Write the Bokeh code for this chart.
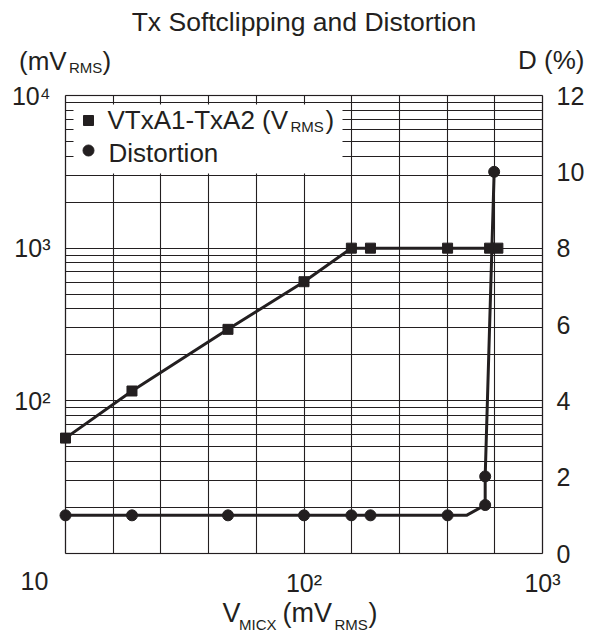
from bokeh.plotting import figure
from bokeh.models import (Range1d, LinearAxis, LinearScale, FixedTicker, Label,
                          BoxAnnotation)
from bokeh.embed import file_html
from bokeh.resources import INLINE

# ---------------- data ----------------
vtx_x = [10, 19, 48, 100, 158, 190, 400, 600, 650]
vtx_y = [57, 116, 294, 603, 1000, 1000, 1000, 1000, 1000]

dist_x = [10, 19, 48, 100, 158, 190, 400, 575, 575, 627]
dist_d = [1.0, 1.0, 1.0, 1.0, 1.0, 1.0, 1.0, 1.27, 2.02, 10.0]
# measured curve path (the knee near 480 mV carries no marker)
dist_path_x = [10, 19, 48, 100, 158, 190, 400, 480, 575, 575, 627]
dist_path_d = [1.0, 1.0, 1.0, 1.0, 1.0, 1.0, 1.0, 1.0, 1.27, 2.02, 10.0]

x_ticks = [10, 100, 1000]
x_tick_labels = ["10", "10²", "10³"]
y_ticks = [100, 1000, 10000]
y_tick_labels = ["10²", "10³", "10⁴"]
d_ticks = [0, 2, 4, 6, 8, 10, 12]
d_tick_labels = ["0", "2", "4", "6", "8", "10", "12"]
x_lim = (10, 1000)
y_lim = (10, 10000)
d_lim = (0, 12)

title_text = "Tx Softclipping and Distortion"
legend_vtx = ["VTxA1-TxA2 (V", "RMS", ")"]
legend_dist = "Distortion"

# ---------------- layout (page pixels) ----------------
INK = "#231f20"
FONT = "Liberation Sans"
M = 0                      # observed page offset of the canvas
W, H = 593, 635            # canvas size
BX0, BX1, BY0, BY1 = 65, 542, 95, 553   # plot box edges on the page

xpp = 2 / (BX1 - BX0)      # decades per pixel
ypp = 3 / (BY1 - BY0)
dpp = 12 / (BY1 - BY0)


def X(px):
    return 10 ** (1 + (px - BX0) * xpp)


def Y(py):
    return 10 ** (1 + (BY1 - py) * ypp)


x_range = Range1d(X(M), X(M + W))
y_range = Range1d(Y(M + H), Y(M))
d_range = Range1d(-(M + H - BY1) * dpp, 12 + (BY0 - M) * dpp)

p = figure(x_axis_type="log", y_axis_type="log",
           x_range=x_range, y_range=y_range,
           width=W, height=H,
           min_border_left=0, min_border_top=0,
           min_border_right=0, min_border_bottom=0,
           output_backend="svg", toolbar_location=None, title=None)
p.extra_y_ranges = {"d": d_range}
p.extra_y_scales = {"d": LinearScale()}
p.background_fill_color = "white"
p.border_fill_color = "white"
p.outline_line_color = None

# ---------------- grid ----------------
xgrid_ticks = [10 ** (1 + 0.2 * k) for k in range(11)]
ygrid_ticks = [k * 10 ** n for n in (1, 2, 3) for k in range(1, 10)] + [10000]
p.xgrid.ticker = FixedTicker(ticks=xgrid_ticks)
p.ygrid.ticker = FixedTicker(ticks=ygrid_ticks)
for g in (p.xgrid, p.ygrid):
    g.grid_line_color = INK
    g.grid_line_width = 1.1
try:
    p.xgrid[0].cross_bounds = y_lim
    p.ygrid[0].cross_bounds = x_lim
except Exception:
    p.xgrid.visible = False
    p.ygrid.visible = False
    p.segment(x0=xgrid_ticks, x1=xgrid_ticks,
              y0=[y_lim[0]] * len(xgrid_ticks), y1=[y_lim[1]] * len(xgrid_ticks),
              line_color=INK, line_width=1.1, level="underlay")
    p.segment(x0=[x_lim[0]] * len(ygrid_ticks), x1=[x_lim[1]] * len(ygrid_ticks),
              y0=ygrid_ticks, y1=ygrid_ticks,
              line_color=INK, line_width=1.1, level="underlay")


def style_axis(ax, standoff):
    ax.axis_line_color = None
    ax.major_tick_line_color = None
    ax.minor_tick_line_color = None
    ax.major_label_text_font = FONT
    ax.major_label_text_font_size = "25px"
    ax.major_label_text_color = INK
    ax.major_label_standoff = standoff


# bottom axis (fixed on the bottom edge of the plot box)
xa = p.xaxis[0]
xa.ticker = FixedTicker(ticks=x_ticks[1:])
xa.major_label_overrides = {t: s for t, s in zip(x_ticks[1:], x_tick_labels[1:])}
xa.fixed_location = y_lim[0]
style_axis(xa, 9)

# left axis
ya = p.yaxis[0]
ya.ticker = FixedTicker(ticks=y_ticks)
ya.major_label_overrides = {t: s for t, s in zip(y_ticks, y_tick_labels)}
ya.fixed_location = x_lim[0]
style_axis(ya, 9)

# right axis (distortion, linear)
ra = LinearAxis(y_range_name="d", ticker=FixedTicker(ticks=d_ticks))
ra.major_label_overrides = {t: s for t, s in zip(d_ticks, d_tick_labels)}
ra.fixed_location = x_lim[1]
style_axis(ra, 8)
p.add_layout(ra, "right")

# legend background (hides the grid there)
p.add_layout(BoxAnnotation(left=X(73), right=X(342), top=Y(104), bottom=Y(173),
                           fill_color="white", fill_alpha=1.0, line_color=None,
                           level="underlay"))

# plot box outline
p.add_layout(BoxAnnotation(left=x_lim[0], right=x_lim[1], bottom=y_lim[0], top=y_lim[1],
                           fill_color=None, fill_alpha=0, line_color=INK,
                           line_width=1.6))

# ---------------- data marks ----------------
p.line(vtx_x, vtx_y, line_color=INK, line_width=3)
p.scatter(vtx_x, vtx_y, marker="square", size=10, color=INK)
p.line(dist_path_x, dist_path_d, y_range_name="d", line_color=INK, line_width=3)
p.scatter(dist_x, dist_d, y_range_name="d", marker="circle", size=11, color=INK)

# legend swatches
p.scatter([X(88)], [Y(120)], marker="square", size=10, color=INK)
p.scatter([X(88)], [Y(150)], marker="circle", size=11, color=INK)


def lab(text, px, py, size=26, align="left"):
    # py is the wanted baseline; labels are drawn about 0.36 em lower, so compensate
    p.add_layout(Label(x=X(px), y=Y(py - 0.36 * size), text=text, text_font=FONT,
                       text_font_size=f"{size}px", text_color=INK,
                       text_align=align, text_baseline="alphabetic"))


# legend texts
lab(legend_vtx[0], 107, 128.5)
lab(legend_vtx[1], 290, 131.5, size=15)
lab(legend_vtx[2], 325, 128.5)
lab(legend_dist, 108, 162)

# title and axis titles
lab(title_text, 303.5, 31.5, size=26.5, align="center")
lab("(mV", 18.5, 69.5)
lab("RMS", 68.5, 72.5, size=15)
lab(")", 102, 69.5)
lab("D (%)", 584, 69, align="right")

lab("V", 222, 622, size=27)
lab("MICX", 238.5, 629.5, size=15)
lab("(mV", 282, 622, size=27)
lab("RMS", 334, 629.5, size=15)
lab(")", 368, 622, size=27)

# lower-left x tick label, drawn left of its tick as in the reference
p.add_layout(Label(x=x_ticks[0], y=Y(589 - 9), x_offset=-31, text=x_tick_labels[0],
                   text_font=FONT, text_font_size="25px", text_color=INK,
                   text_align="center", text_baseline="alphabetic"))

open("out.html", "w").write(file_html(p, INLINE))
